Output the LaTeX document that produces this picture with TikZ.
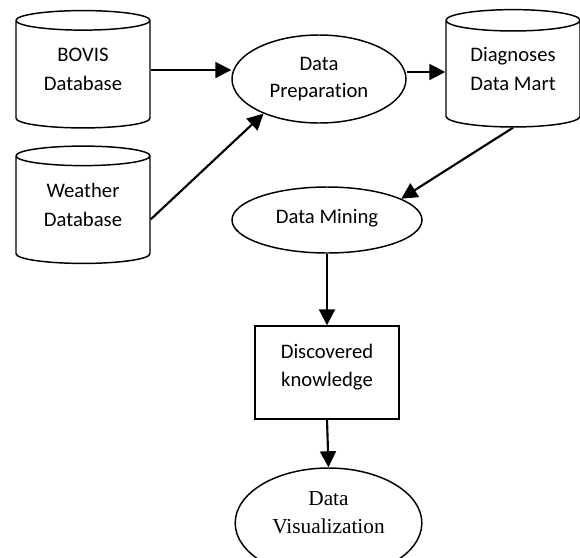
\documentclass[tikz,border=0pt]{standalone}
\usepackage{fontspec}
\setmainfont{Carlito}[Ligatures=NoCommon]
\newfontfamily\serifrm{Liberation Serif}
\usetikzlibrary{shapes.geometric,arrows.meta}

\begin{document}
\begin{tikzpicture}[x=0.75pt,y=-0.75pt,
  store/.style={cylinder,shape border rotate=90,aspect=0.25,draw,line width=1.1pt,
    minimum width=100.5pt,minimum height=88pt,inner sep=0pt,align=center,
    text depth=8pt,font=\fontsize{15.5}{21.5}\selectfont},
  proc/.style={ellipse,draw,line width=1.1pt,inner sep=0pt,align=center,
    font=\fontsize{15.5}{20.5}\selectfont},
  flow/.style={line width=1.6pt,-{Triangle[length=12pt,width=12pt]}}]
\clip (0,0) rectangle (580,557);

% data sources and the mart
\node[store] (bovis) at (83,74.5) {BOVIS\\Database};
\node[store] (weather) at (83,210) {Weather\\Database};
\node[store] (mart) at (513,74) {Diagnoses\\Data Mart};

% processing steps
\node[proc,minimum width=130.5pt,minimum height=66pt] (prep) at (319,79) {Data\\Preparation};
\node[proc,minimum width=142.5pt,minimum height=49.5pt,text depth=6pt] (mining) at (327,220) {Data Mining};
\node[draw,line width=1.1pt,minimum width=108pt,minimum height=69.75pt,align=center,
  text depth=10.5pt,font=\fontsize{15.5}{21}\selectfont] (know) at (327,372.5) {Discovered\\knowledge};
\node[proc,minimum width=140pt,minimum height=82.5pt,text depth=16pt,
  font=\serifrm\fontsize{16}{21}\selectfont] (vis) at (328.5,523) {Data\\Visualization};

\draw[flow] (bovis.east |- 0,70) -- (prep.west |- 0,70);
\draw[flow] ([yshift=-7pt]weather.east) -- (prep.212);
\draw[flow] (prep.east |- 0,72) -- (mart.west |- 0,72);
\draw[flow] (mart.south) -- (mining.16);
\draw[flow] (mining.south) -- (know.north);
\draw[flow] (know.south) -- (vis.north);
\end{tikzpicture}
\end{document}
